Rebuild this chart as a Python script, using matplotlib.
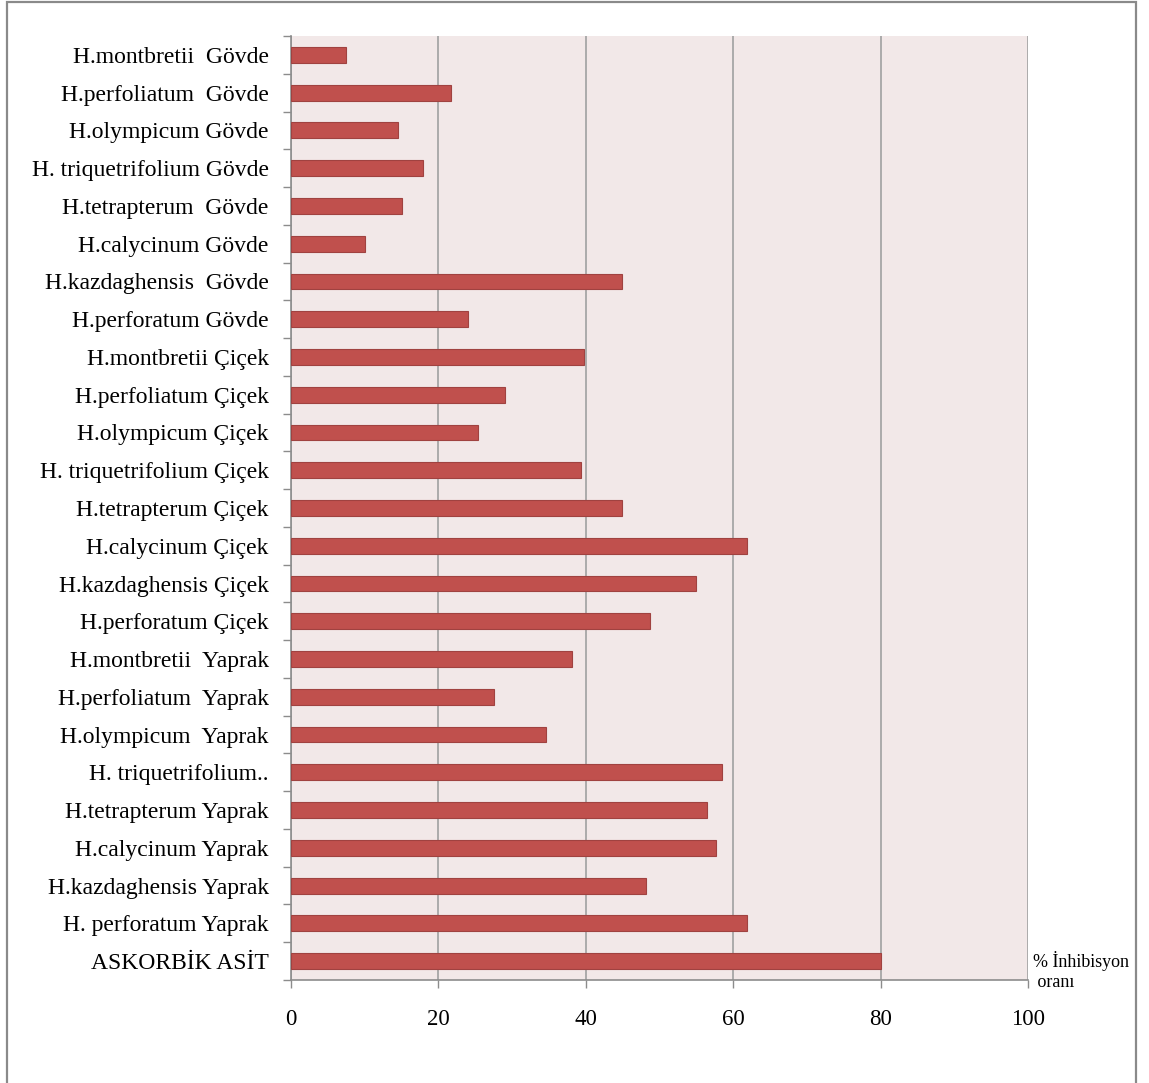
import matplotlib
matplotlib.use("Agg")
import matplotlib.pyplot as plt
from matplotlib.patches import Rectangle

categories = [
    "H.montbretii  Gövde",
    "H.perfoliatum  Gövde",
    "H.olympicum Gövde",
    "H. triquetrifolium Gövde",
    "H.tetrapterum  Gövde",
    "H.calycinum Gövde",
    "H.kazdaghensis  Gövde",
    "H.perforatum Gövde",
    "H.montbretii Çiçek",
    "H.perfoliatum Çiçek",
    "H.olympicum Çiçek",
    "H. triquetrifolium Çiçek",
    "H.tetrapterum Çiçek",
    "H.calycinum Çiçek",
    "H.kazdaghensis Çiçek",
    "H.perforatum Çiçek",
    "H.montbretii  Yaprak",
    "H.perfoliatum  Yaprak",
    "H.olympicum  Yaprak",
    "H. triquetrifolium..",
    "H.tetrapterum Yaprak",
    "H.calycinum Yaprak",
    "H.kazdaghensis Yaprak",
    "H. perforatum Yaprak",
    "ASKORBİK ASİT",
]
inhibition = [7.5, 21.7, 14.5, 17.9, 15.1, 10.0, 44.9, 24.0,
              39.8, 29.0, 25.4, 39.3, 44.9, 61.9, 55.0, 48.7,
              38.1, 27.5, 34.6, 58.5, 56.4, 57.7, 48.2, 61.9, 80.0]
x_ticks = [0, 20, 40, 60, 80, 100]
axis_note = "% İnhibisyon\n oranı"

W, H = 1149, 1083
fig = plt.figure(figsize=(W / 100, H / 100), dpi=100)
serif = ["Liberation Serif", "DejaVu Serif"]

ax = fig.add_axes([291 / W, 1 - 980 / H, (1028 - 291) / W, (980 - 36) / H])
ax.set_facecolor("#F2E8E8")

pos = list(range(len(categories)))
ax.barh(pos, inhibition, height=0.42, color="#C0504D",
        edgecolor="#A04240", linewidth=0.8, zorder=3)

ax.set_xlim(0, 100)
ax.set_ylim(len(categories) - 0.5, -0.5)

ax.set_xticks(x_ticks)
ax.set_xticklabels([str(t) for t in x_ticks], family=serif, fontsize=16.5)
ax.tick_params(axis="x", length=6, width=1, color="#8C8C8C", pad=15)
ax.xaxis.grid(True, color="#A0A0A0", linewidth=1.2, zorder=1)

ax.set_yticks(pos)
ax.set_yticklabels(categories, family=serif, fontsize=17)
ax.set_yticks([p - 0.5 for p in pos] + [len(pos) - 0.5], minor=True)
ax.tick_params(axis="y", which="major", length=0, pad=16)
ax.tick_params(axis="y", which="minor", length=6, width=1, color="#8C8C8C")

for side in ("top", "right"):
    ax.spines[side].set_visible(False)
for side in ("left", "bottom"):
    ax.spines[side].set_color("#8C8C8C")
    ax.spines[side].set_linewidth(1.2)

fig.text(1033 / W, 1 - 971 / H, axis_note, family=serif, fontsize=13,
         ha="left", va="center", linespacing=1.25)

fig.add_artist(Rectangle((7 / W, -0.05), (1136 - 7) / W, 1.05 - 2 / H,
                         transform=fig.transFigure, fill=False,
                         edgecolor="#8A8A8A", linewidth=1.6))

fig.savefig("out.png", dpi=100)
